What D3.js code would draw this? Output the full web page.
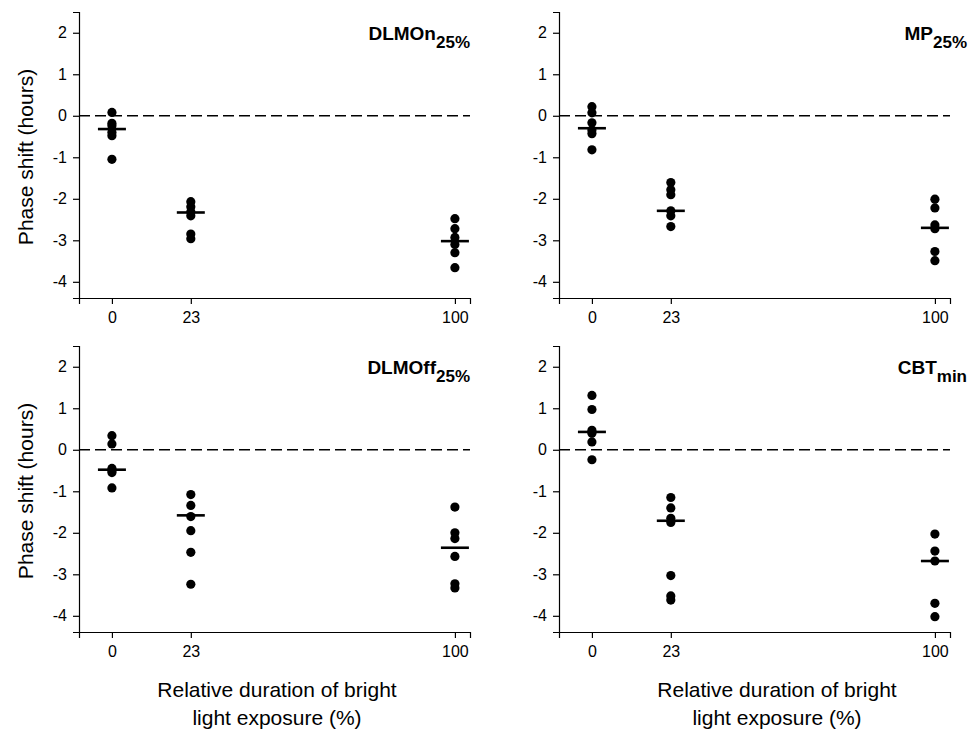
<!DOCTYPE html>
<html>
<head>
<meta charset="utf-8">
<script src="https://cdn.jsdelivr.net/npm/d3@7"></script>
<style>
  body { margin: 0; background: #fff; }
  svg { font-family: "Liberation Sans", Arial, sans-serif; }
</style>
</head>
<body>
<div id="vis"></div>
<script>
// Chart values
const GROUPS = [0, 23, 100];
const Y_TICKS = [-4, -3, -2, -1, 0, 1, 2];
const TITLES = ["DLMOn", "MP", "DLMOff", "CBT"];
const SUBS = ["25%", "25%", "25%", "min"];

const DLMON = [[0.08, -0.18, -0.24, -0.40, -0.48, -1.05],
               [-2.07, -2.19, -2.31, -2.41, -2.85, -2.96],
               [-2.48, -2.72, -2.93, -3.10, -3.30, -3.66]];
const MP = [[0.22, 0.07, -0.17, -0.34, -0.43, -0.82],
            [-1.61, -1.78, -1.90, -2.29, -2.41, -2.67],
            [-2.01, -2.22, -2.63, -2.72, -3.27, -3.49]];
const DLMOFF = [[0.34, 0.14, -0.45, -0.50, -0.55, -0.92],
                [-1.08, -1.34, -1.61, -1.95, -2.47, -3.24],
                [-1.38, -2.00, -2.14, -2.57, -3.23, -3.33]];
const CBT = [[1.31, 0.97, 0.47, 0.40, 0.19, -0.24],
             [-1.15, -1.40, -1.65, -1.75, -3.03, -3.52, -3.62],
             [-2.03, -2.44, -2.68, -3.70, -4.02]];

const MED_DLMON = [-0.32, -2.33, -3.02];
const MED_MP = [-0.30, -2.29, -2.70];
const MED_DLMOFF = [-0.48, -1.58, -2.36];
const MED_CBT = [0.43, -1.71, -2.68];

const ALL_VALUES = [DLMON, MP, DLMOFF, CBT];
const ALL_MEDIANS = [MED_DLMON, MED_MP, MED_DLMOFF, MED_CBT];

// Layout
const FRAME_WIDTH = 970;
const FRAME_HEIGHT = 730;
const VIS_WIDTH = 391;
const VIS_HEIGHT = 286;
const ORIGINS = [{x: 79, y: 12}, {x: 559, y: 12}, {x: 79, y: 346}, {x: 559, y: 346}];
const TITLE_RIGHT = [470, 967, 470, 967];

const X_SCALE = d3.scaleLinear().domain([-9.6, 104.4]).range([0, VIS_WIDTH]);
const Y_SCALE = d3.scaleLinear().domain([-4.39, 2.5]).range([VIS_HEIGHT, 0]);

const FRAME = d3.select("#vis")
  .append("svg")
  .attr("width", FRAME_WIDTH)
  .attr("height", FRAME_HEIGHT);

ALL_VALUES.forEach((vals, i) => {
  const g = FRAME.append("g")
    .attr("transform", "translate(" + ORIGINS[i].x + "," + ORIGINS[i].y + ")");

  // zero reference line
  g.append("line")
    .attr("x1", 0).attr("x2", VIS_WIDTH)
    .attr("y1", Y_SCALE(0)).attr("y2", Y_SCALE(0))
    .attr("stroke", "#000")
    .attr("stroke-width", 1.4)
    .attr("stroke-dasharray", "11,5");

  // axes
  const yAxis = g.append("g")
    .call(d3.axisLeft(Y_SCALE).tickValues(Y_TICKS).tickFormat(d => String(d)).tickSizeOuter(0).tickSize(6).tickPadding(6));
  const xAxis = g.append("g")
    .attr("transform", "translate(0," + VIS_HEIGHT + ")")
    .call(d3.axisBottom(X_SCALE).tickValues(GROUPS).tickFormat(d => String(d)).tickSizeOuter(0).tickSize(6).tickPadding(8));
  [yAxis, xAxis].forEach(a => {
    a.attr("font-size", "16px").attr("font-family", "Liberation Sans, Arial, sans-serif");
    a.selectAll("text").attr("fill", "#000");
    a.selectAll("line, path").attr("stroke", "#000").attr("stroke-width", 1.2);
  });

  // points
  const pts = [];
  vals.forEach((arr, gi) => arr.forEach(v => pts.push({x: GROUPS[gi], y: v})));
  g.selectAll(".point")
    .data(pts)
    .enter()
    .append("circle")
    .attr("class", "point")
    .attr("cx", d => X_SCALE(d.x))
    .attr("cy", d => Y_SCALE(d.y))
    .attr("r", 4.6)
    .attr("fill", "#000");

  // median bars
  g.selectAll(".median")
    .data(ALL_MEDIANS[i])
    .enter()
    .append("line")
    .attr("x1", (d, gi) => X_SCALE(GROUPS[gi]) - 14)
    .attr("x2", (d, gi) => X_SCALE(GROUPS[gi]) + 14)
    .attr("y1", d => Y_SCALE(d))
    .attr("y2", d => Y_SCALE(d))
    .attr("stroke", "#000")
    .attr("stroke-width", 2.6);

  // panel title with subscript
  const t = FRAME.append("text")
    .attr("x", TITLE_RIGHT[i])
    .attr("y", ORIGINS[i].y + 28)
    .attr("text-anchor", "end")
    .attr("font-weight", "bold")
    .attr("font-size", "19px");
  t.append("tspan").text(TITLES[i]);
  t.append("tspan").attr("dy", 8).attr("font-size", "17px").text(SUBS[i]);

  // y label on left panels
  if (i % 2 === 0) {
    FRAME.append("text")
      .attr("transform", "translate(27," + (ORIGINS[i].y + 145) + ") rotate(-90)")
      .attr("text-anchor", "middle")
      .attr("dominant-baseline", "middle")
      .attr("font-size", "21px")
      .text("Phase shift (hours)");
  }

  // x label on bottom panels
  if (i >= 2) {
    const cx = i === 2 ? 277 : 777;
    FRAME.append("text")
      .attr("x", cx).attr("y", 697)
      .attr("text-anchor", "middle")
      .attr("font-size", "21px")
      .text("Relative duration of bright");
    FRAME.append("text")
      .attr("x", cx).attr("y", 725)
      .attr("text-anchor", "middle")
      .attr("font-size", "21px")
      .text("light exposure (%)");
  }
});
</script>
</body>
</html>
